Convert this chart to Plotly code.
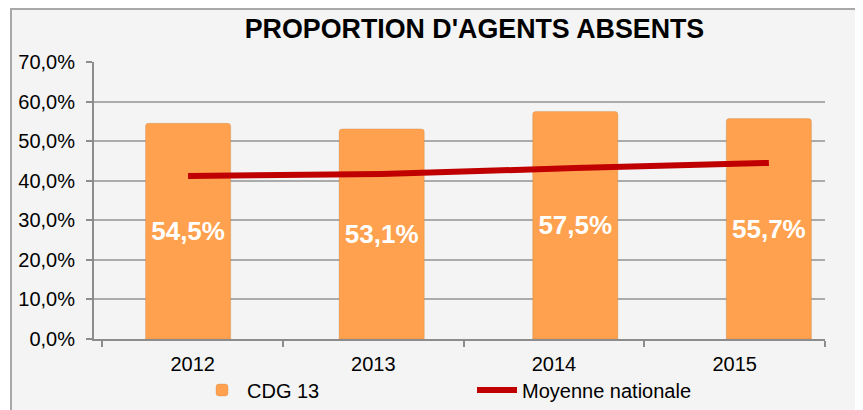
import plotly.graph_objects as go

# ---- data ----
years = ["2012", "2013", "2014", "2015"]
cdg13 = [54.5, 53.1, 57.5, 55.7]
moyenne_nationale = [41.2, 41.7, 43.2, 44.5]
title_text = "PROPORTION D'AGENTS ABSENTS"
series_names = ["CDG 13", "Moyenne nationale"]

FONT = "Liberation Sans, Arial, sans-serif"
OFF = 8                      # browser body margin
PAGE_W, PAGE_H = 863, 410
W, H = PAGE_W - OFF, PAGE_H - OFF


def px(xp):                  # page x pixel -> paper fraction
    return (xp - OFF) / W


def py(yp):                  # page y pixel -> paper fraction (from bottom)
    return (PAGE_H - yp) / H


fig = go.Figure()

fig.add_trace(go.Bar(
    x=years, y=cdg13, name=series_names[0],
    marker=dict(color="#FFA14E", cornerradius=3,
                line=dict(color="rgba(180,120,60,0.25)", width=1)),
    width=0.44,
    texttemplate="%{y:.1f}%", textposition="inside", insidetextanchor="middle",
    textfont=dict(family=FONT, size=26, color="white", weight="bold"),
    textangle=0,
    xaxis="x", yaxis="y",
))

fig.add_trace(go.Scatter(
    x=years, y=moyenne_nationale, name=series_names[1], mode="lines",
    line=dict(color="#C00000", width=6, shape="spline", smoothing=0.4),
    xaxis="x", yaxis="y",
))

# invisible trace carrying the category axis with the year labels
fig.add_trace(go.Scatter(
    x=years, y=[None] * len(years), mode="markers", showlegend=False,
    hoverinfo="skip", xaxis="x2", yaxis="y",
))

fig.update_layout(
    width=W, height=H,
    margin=dict(l=0, r=0, t=0, b=0, autoexpand=False),
    paper_bgcolor="white",
    plot_bgcolor="rgba(0,0,0,0)",
    separators=", ",
    font=dict(family=FONT, size=20, color="black"),
    title=dict(text=title_text, x=px(474.5), xanchor="center", xref="paper",
               y=py(29), yanchor="middle", automargin=False,
               font=dict(family=FONT, size=26.8, color="black", weight="bold")),
    xaxis=dict(
        domain=[px(94), px(825)], type="category", categoryarray=years,
        range=[-0.486, 3.29], showticklabels=False, ticks="", showline=False,
        showgrid=False, zeroline=False, anchor="y", automargin=False,
    ),
    xaxis2=dict(
        overlaying="x", anchor="y", side="bottom", type="category",
        categoryarray=years, range=[-0.546, 3.5],
        showline=True, linecolor="#8C8C8C", linewidth=2,
        ticks="outside", tickson="boundaries", ticklen=6, tickcolor="#8C8C8C",
        tickwidth=2, showgrid=False, zeroline=False, automargin=False,
        tickfont=dict(family=FONT, size=20, color="black"),
        ticklabelstandoff=6,
    ),
    yaxis=dict(
        domain=[py(339), py(62)], range=[0, 70], dtick=10,
        tickformat=".1f", ticksuffix="%",
        showline=True, linecolor="#8C8C8C", linewidth=2,
        ticks="outside", ticklen=6, tickcolor="#8C8C8C", tickwidth=2,
        showgrid=True, gridcolor="#ABABAB", gridwidth=2, zeroline=False,
        tickfont=dict(family=FONT, size=20, color="black"),
        ticklabelstandoff=7, anchor="x", automargin=False,
    ),
    legend=dict(
        orientation="h", x=189 / W, xanchor="left", y=py(390),
        yanchor="middle", bgcolor="rgba(0,0,0,0)",
        font=dict(family=FONT, size=20, color="black"),
        entrywidth=220, entrywidthmode="pixels", itemwidth=40,
        traceorder="normal",
    ),
    shapes=[dict(
        type="rect", xref="paper", yref="paper",
        x0=px(11), x1=1.05, y0=-0.05, y1=py(9),
        fillcolor="#F4F4F4", line=dict(color="#A8A8A8", width=2), layer="below",
    )],
)

fig.write_html("out.html")
